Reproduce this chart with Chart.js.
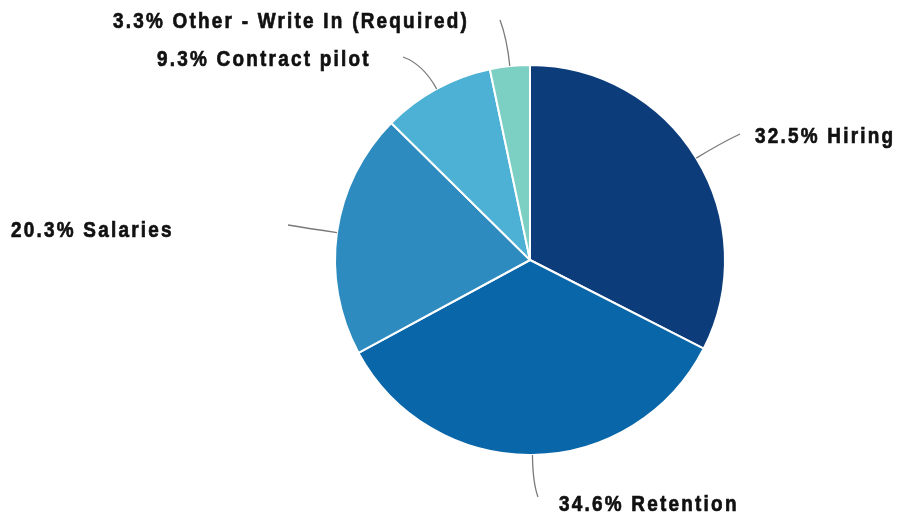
<!DOCTYPE html>
<html>
<head>
<meta charset="utf-8">
<script src="https://cdn.jsdelivr.net/npm/chart.js@4"></script>
<style>
  html, body { margin: 0; padding: 0; background: #fff; }
  #wrap { width: 897px; height: 516px; }
</style>
</head>
<body>
<div id="wrap"><canvas id="myChart"></canvas></div>
<script>
'use strict';

// data
const categories = ['Hiring', 'Retention', 'Salaries', 'Contract pilot', 'Other - Write In (Required)'];
const shares = [32.5, 34.6, 20.3, 9.3, 3.3];
const sliceColors = ['#0c3c7a', '#0866a9', '#2e8bbf', '#4cb1d4', '#7ccfc3'];

// where each callout text sits and where its leader line ends
const callouts = [
  { tx: 755, ty: 143, ex: 740, ey: 134 },
  { tx: 559, ty: 511, ex: 538, ey: 497 },
  { tx: 11, ty: 237, ex: 288, ey: 225 },
  { tx: 157, ty: 66, ex: 403, ey: 57 },
  { tx: 113, ty: 28, ex: 500, ey: 20 }
];

const calloutPlugin = {
  id: 'callouts',
  afterDatasetsDraw(chart) {
    const c = chart.ctx;
    const arcs = chart.getDatasetMeta(0).data;
    arcs.forEach((arc, i) => {
      const p = arc.getProps(['x', 'y', 'startAngle', 'endAngle', 'outerRadius'], true);
      const mid = (p.startAngle + p.endAngle) / 2;
      const sx = p.x + Math.cos(mid) * p.outerRadius;
      const sy = p.y + Math.sin(mid) * p.outerRadius;
      const cx = p.x + Math.cos(mid) * (p.outerRadius + 28);
      const cy = p.y + Math.sin(mid) * (p.outerRadius + 28);
      const co = callouts[i];

      c.save();
      // leader line
      c.strokeStyle = '#7a7a7a';
      c.lineWidth = 1.3;
      c.beginPath();
      c.moveTo(sx, sy);
      c.quadraticCurveTo(cx, cy, co.ex, co.ey);
      c.stroke();

      // label text, squeezed to look like a condensed heavy face
      const txt = shares[i].toFixed(1) + '% ' + categories[i];
      c.translate(co.tx, co.ty);
      c.scale(0.86, 1);
      c.fillStyle = '#111';
      c.strokeStyle = '#111';
      c.lineWidth = 0.7;
      c.font = 'bold 22px "Liberation Sans", Arial, sans-serif';
      c.letterSpacing = '2.6px';
      c.textAlign = 'left';
      c.textBaseline = 'alphabetic';
      c.fillText(txt, 0, 0);
      c.strokeText(txt, 0, 0);
      c.restore();
    });
  }
};

const ctx = document.getElementById('myChart').getContext('2d');

const myChart = new Chart(ctx, { // eslint-disable-line
  type: 'pie',
  data: {
    labels: categories,
    datasets: [{
      data: shares,
      backgroundColor: sliceColors,
      borderColor: '#ffffff',
      borderWidth: 2
    }]
  },
  options: {
    responsive: true,
    maintainAspectRatio: false,
    animation: false,
    layout: {
      padding: { top: 64, bottom: 60, left: 334, right: 171 }
    },
    plugins: {
      legend: { display: false },
      tooltip: { enabled: false }
    }
  },
  plugins: [calloutPlugin]
});
</script>
</body>
</html>
